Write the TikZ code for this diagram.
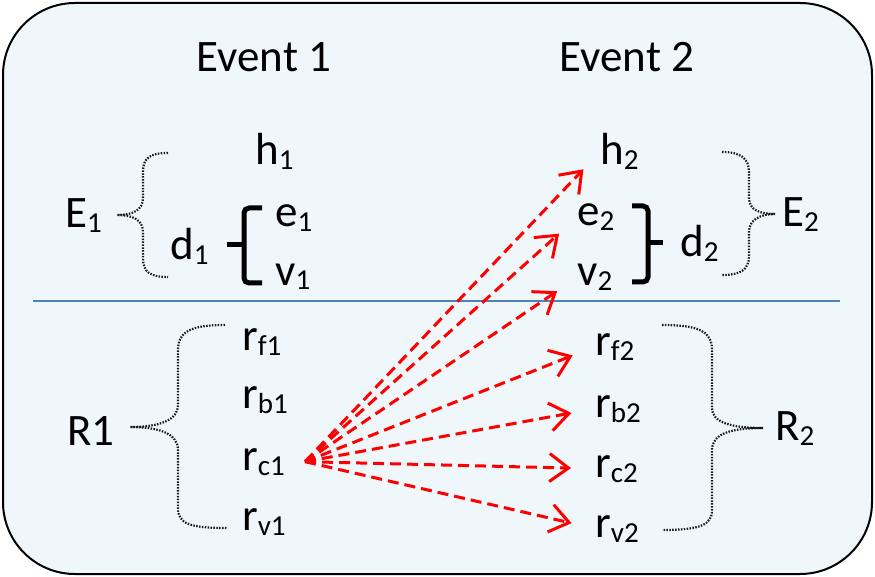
\documentclass[tikz,border=0pt]{standalone}
\usepackage{fontspec}
\setmainfont{Carlito}
\usetikzlibrary{arrows.meta, calc}
\definecolor{boxfill}{RGB}{240,247,250}
\definecolor{rulecolor}{RGB}{79,129,189}
\definecolor{linkred}{RGB}{255,0,0}
\newcommand{\lblsize}{\fontsize{45}{54}\selectfont}
\newcommand{\sbs}[1]{\raisebox{-5pt}{\fontsize{29}{29}\selectfont #1}}

\begin{document}
\begin{tikzpicture}[x=1pt, y=-1pt,
  lbl/.style={inner sep=0pt, anchor=base west, font=\lblsize},
  title/.style={inner sep=0pt, anchor=base, font=\lblsize},
  dotbrace/.style={line width=2.2pt, color=black!90, dash pattern=on 1.5pt off 1.4pt},
  bracket/.style={line width=5pt, rounded corners=5pt},
  link/.style={-{Straight Barb[length=19pt, width=28pt]}, line width=3pt,
               color=linkred, dash pattern=on 11pt off 6pt, shorten >=24pt},
]
\useasboundingbox (0,0) rectangle (875,577);
\draw[line width=2pt, fill=boxfill, rounded corners=72pt] (3,3) rectangle (872,574);

% headings
\node[title] (ev1) at (264,72) {Event 1};
\node[title] (ev2) at (627,72) {Event 2};

% event 1
\node[lbl] (h1) at (255,165) {h\sbs{1}};
\node[lbl] (e1) at (275,227) {e\sbs{1}};
\node[lbl] (v1) at (275,285) {v\sbs{1}};
\node[lbl] (d1) at (170,260) {d\sbs{1}};
\node[lbl] (E1) at (65,228) {E\sbs{1}};

% event 2
\node[lbl] (h2) at (600,165) {h\sbs{2}};
\node[lbl] (e2) at (577,226) {e\sbs{2}};
\node[lbl] (v2) at (577,286) {v\sbs{2}};
\node[lbl] (d2) at (680,257) {d\sbs{2}};
\node[lbl] (E2) at (782,227) {E\sbs{2}};

\draw[line width=1.5pt, rulecolor] (33,301) -- (840,301);

% roles
\node[lbl] (rf1) at (242,350) {r\sbs{f1}};
\node[lbl] (rb1) at (242,408) {r\sbs{b1}};
\node[lbl] (rc1) at (242,470) {r\sbs{c1}};
\node[lbl] (rv1) at (242,530) {r\sbs{v1}};
\node[lbl] (R1) at (67,445) {R1};

\node[lbl] (rf2) at (595,355) {r\sbs{f2}};
\node[lbl] (rb2) at (595,417) {r\sbs{b2}};
\node[lbl] (rc2) at (595,477) {r\sbs{c2}};
\node[lbl] (rv2) at (595,537) {r\sbs{v2}};
\node[lbl] (R2) at (775,440) {R\sbs{2}};

% braces
\draw[dotbrace] (168,153) .. controls (150,153) and (143,158) .. (143,172) -- (143,198)
  .. controls (143,210) and (133,215) .. (117,215) .. controls (133,215) and (143,220) .. (143,232)
  -- (143,258) .. controls (143,272) and (150,277) .. (168,277);
\draw[dotbrace] (225,325) .. controls (190,325) and (178,332) .. (178,350) -- (178,405)
  .. controls (178,420) and (160,427) .. (130,427) .. controls (160,427) and (178,434) .. (178,450)
  -- (178,508) .. controls (178,524) and (190,528) .. (227,528);
\draw[dotbrace] (722,152) .. controls (740,152) and (749,158) .. (749,172) -- (749,198)
  .. controls (749,210) and (760,214) .. (775,214) .. controls (760,214) and (749,220) .. (749,232)
  -- (749,256) .. controls (749,270) and (740,275) .. (722,275);
\draw[dotbrace] (662,325) .. controls (700,325) and (712,332) .. (712,350) -- (712,408)
  .. controls (712,422) and (730,428) .. (763,428) .. controls (730,428) and (712,434) .. (712,450)
  -- (712,510) .. controls (712,525) and (700,530) .. (662,530);

\draw[bracket] (262,208) -- (244,208) -- (244,283) -- (262,283);
\draw[line width=5pt] (244,245) -- (227,245);
\draw[bracket] (632,206) -- (648,206) -- (648,282) -- (632,282);
\draw[line width=5pt] (648,243) -- (663,243);

% links
\coordinate (src) at ([xshift=20pt]rc1.east);
\foreach \t in {h2,e2,v2,rf2,rb2,rc2,rv2}
  \draw[link] (src) -- (\t.west);
\end{tikzpicture}
\end{document}
